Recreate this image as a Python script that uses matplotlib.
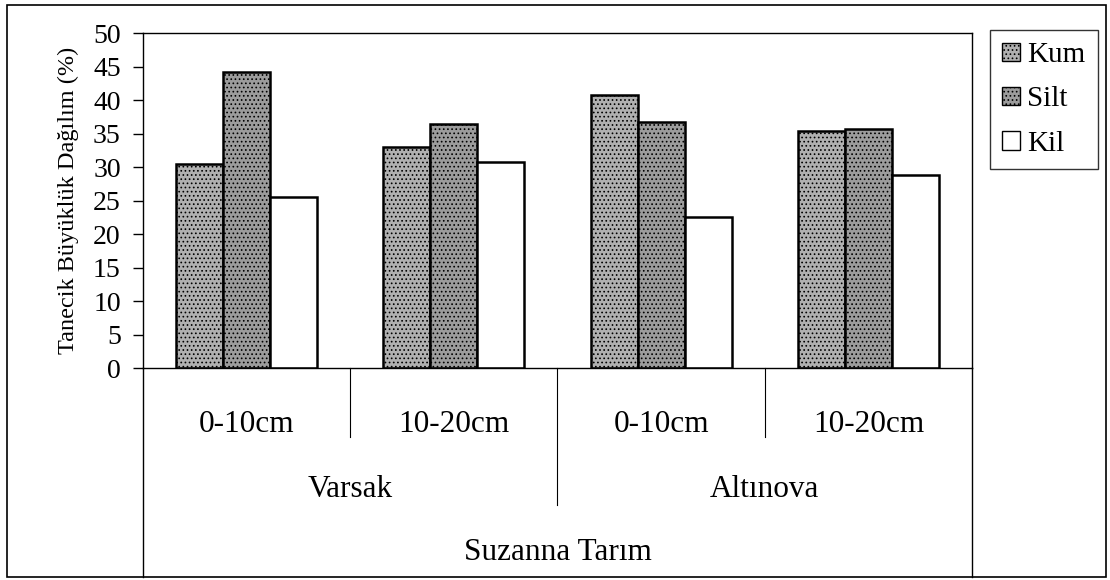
import matplotlib
matplotlib.use('Agg')
import matplotlib.pyplot as plt
from matplotlib.patches import Rectangle
import numpy as np

plt.rcParams['font.family'] = 'Liberation Serif'
plt.rcParams['hatch.linewidth'] = 0.7

series = ['Kum', 'Silt', 'Kil']
depths = ['0-10cm', '10-20cm', '0-10cm', '10-20cm']
places = ['Varsak', 'Altınova']
company = 'Suzanna Tarım'

kum = [30.4, 33.0, 40.7, 35.4]
silt = [44.2, 36.4, 36.7, 35.7]
kil = [25.5, 30.7, 22.5, 28.8]

fig = plt.figure(figsize=(11.1, 5.8), dpi=100)
ax = fig.add_axes([0.1288, 0.3655, 0.7469, 0.5775])

x = np.arange(len(depths))
w = 0.227
ax.bar(x - w, kum, w, facecolor='#b0b0b0', edgecolor='black', hatch='....', linewidth=1.8, label=series[0])
ax.bar(x, silt, w, facecolor='#9c9c9c', edgecolor='black', hatch='....', linewidth=1.8, label=series[1])
ax.bar(x + w, kil, w, facecolor='white', edgecolor='black', linewidth=1.8, label=series[2])

ax.set_xlim(-0.5, 3.5)
ax.set_ylim(0, 50)
ax.set_yticks(np.arange(0, 51, 5))
ax.tick_params(axis='y', labelsize=20, length=7, width=1, pad=9)
ax.set_xticks([])
for s in ax.spines.values():
    s.set_linewidth(1)

ax.set_ylabel('Tanecik Büyüklük Dağılım (%)', fontsize=17.5, labelpad=10)

# category axis: labels and separators under the plot
tr = ax.get_xaxis_transform()
for i, d in enumerate(depths):
    ax.text(i, -0.17, d, transform=tr, ha='center', va='center', fontsize=22.5)
for j, p in enumerate(places):
    ax.text(2 * j + 0.5, -0.364, p, transform=tr, ha='center', va='center', fontsize=22.5)
ax.text(1.5, -0.552, company, transform=tr, ha='center', va='center', fontsize=22.5)

for xv in [0.5, 2.5]:
    ax.plot([xv, xv], [0, -0.206], transform=tr, color='black', lw=0.8, clip_on=False)
ax.plot([1.5, 1.5], [0, -0.409], transform=tr, color='black', lw=0.8, clip_on=False)
for xv in [-0.5, 3.5]:
    ax.plot([xv, xv], [0, -0.624], transform=tr, color='black', lw=1, clip_on=False)

leg = ax.legend(loc='upper left', bbox_to_anchor=(0.892, 0.948), bbox_transform=fig.transFigure,
                fontsize=21, frameon=True, fancybox=False, edgecolor='black',
                handlelength=0.6, handleheight=0.6, handletextpad=0.25,
                labelspacing=0.62, borderpad=0.42, borderaxespad=0)
leg.get_frame().set_linewidth(1)
for h in leg.legend_handles:
    h.set_linewidth(1)

# outer border of the chart area
fig.patches.append(Rectangle((0.006, 0.005), 0.99, 0.986, transform=fig.transFigure,
                             fill=False, edgecolor='black', lw=1.2))

fig.savefig('out.png', dpi=100)
